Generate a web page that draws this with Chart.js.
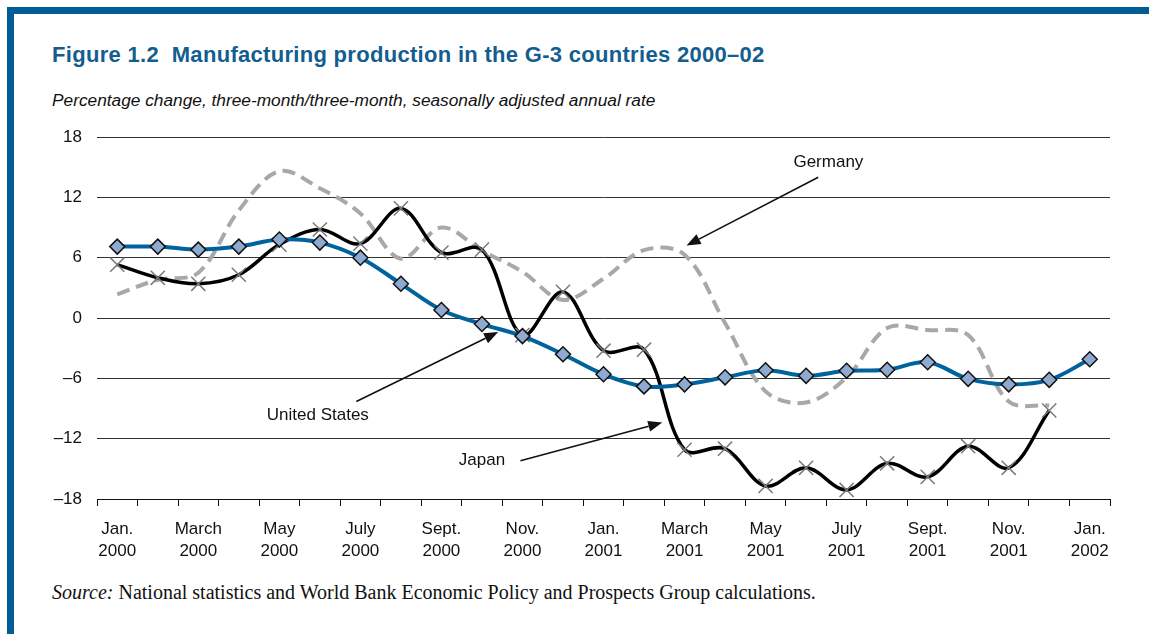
<!DOCTYPE html>
<html>
<head>
<meta charset="utf-8">
<script src="https://cdn.jsdelivr.net/npm/chart.js@4.4.0/dist/chart.umd.min.js"></script>
<style>
  body { margin: 0; background: #fff; width: 1149px; height: 634px; overflow: hidden; position: relative;
         font-family: "Liberation Sans", Arial, sans-serif; }
  .barTop { position: absolute; left: 7px; top: 7px; right: 0; height: 7px; background: #005d96; }
  .barLeft { position: absolute; left: 7px; top: 7px; width: 7px; bottom: 0; background: #005d96; }
  #title { position: absolute; left: 52px; top: 42px; font-size: 22px; line-height: 26px; letter-spacing: 0.3px; font-weight: bold; color: #135d8f; white-space: nowrap; }
  #subtitle { position: absolute; left: 52px; top: 90px; font-size: 17.3px; line-height: 20px; font-style: italic; color: #111; white-space: nowrap; }
  #source { position: absolute; left: 52px; top: 581px; font-family: "Liberation Serif", "Times New Roman", serif; font-size: 20px; line-height: 22px; color: #111; white-space: nowrap; }
  #chartBox { position: absolute; left: 0; top: 0; width: 1149px; height: 634px; }
</style>
</head>
<body>
<div class="barTop"></div>
<div class="barLeft"></div>
<div id="title">Figure 1.2&nbsp; Manufacturing production in the G-3 countries 2000–02</div>
<div id="subtitle">Percentage change, three-month/three-month, seasonally adjusted annual rate</div>
<div id="source"><i>Source:</i> National statistics and World Bank Economic Policy and Prospects Group calculations.</div>
<div id="chartBox"><canvas id="g3Chart"></canvas></div>

<script>
// meses (ene 2000 - ene 2002)
const months = ['Jan.', 'Feb.', 'March', 'April', 'May', 'June', 'July', 'Aug.', 'Sept.', 'Oct.', 'Nov.', 'Dec.',
                'Jan.', 'Feb.', 'March', 'April', 'May', 'June', 'July', 'Aug.', 'Sept.', 'Oct.', 'Nov.', 'Dec.',
                'Jan.'];
const years = ['2000', '2000', '2000', '2000', '2000', '2000', '2000', '2000', '2000', '2000', '2000', '2000',
               '2001', '2001', '2001', '2001', '2001', '2001', '2001', '2001', '2001', '2001', '2001', '2001',
               '2002'];

// series
const unitedStates = [7.1, 7.1, 6.8, 7.1, 7.8, 7.5, 6.0, 3.4, 0.8, -0.6, -1.8, -3.6,
                      -5.6, -6.8, -6.6, -5.9, -5.2, -5.75, -5.25, -5.15, -4.4, -6.05, -6.6, -6.15,
                      -4.1];
const japan = [5.3, 4.0, 3.4, 4.3, 7.3, 8.8, 7.4, 10.9, 6.5, 6.8, -1.7, 2.6,
               -3.25, -3.15, -13.1, -13.0, -16.7, -14.9, -17.1, -14.45, -15.8, -12.75, -14.9, -9.2,
               null];
const germany = [2.35, 3.8, 4.5, 10.7, 14.6, 12.9, 10.4, 5.9, 9.0, 6.7, 4.6, 1.8,
                 3.9, 6.75, 6.3, -0.5, -7.3, -8.4, -5.9, -1.0, -1.2, -1.7, -8.3, -8.7,
                 null];

// eje y
const yTicks = [-18, -12, -6, 0, 6, 12, 18];

// etiquetas con flecha (en unidades del grafico: indice de mes, valor)
const notes = [
    { text: 'Germany', at: [17.55, 15.5], from: [17.3, 14.0], to: [14.05, 7.2] },
    { text: 'United States', at: [4.95, -9.7], from: [5.9, -8.3], to: [9.4, -1.4] },
    { text: 'Japan', at: [9.0, -14.2], from: [9.95, -14.2], to: [13.45, -10.4] }
];

const arrowPlugin = {
    id: 'arrows',
    afterDatasetsDraw(chart) {
        const ctx = chart.ctx;
        const xs = chart.scales.x, ys = chart.scales.y;
        ctx.save();
        ctx.font = '17px "Liberation Sans", Arial, sans-serif';
        ctx.fillStyle = '#111';
        ctx.strokeStyle = '#111';
        ctx.textAlign = 'center';
        ctx.textBaseline = 'middle';
        notes.forEach(n => {
            ctx.fillText(n.text, xs.getPixelForValue(n.at[0]), ys.getPixelForValue(n.at[1]));
            const x1 = xs.getPixelForValue(n.from[0]), y1 = ys.getPixelForValue(n.from[1]);
            const x2 = xs.getPixelForValue(n.to[0]), y2 = ys.getPixelForValue(n.to[1]);
            const ang = Math.atan2(y2 - y1, x2 - x1);
            const head = 14, half = 5.5;
            const bx = x2 - head * Math.cos(ang), by = y2 - head * Math.sin(ang);
            ctx.lineWidth = 1.6;
            ctx.beginPath();
            ctx.moveTo(x1, y1);
            ctx.lineTo(bx, by);
            ctx.stroke();
            ctx.beginPath();
            ctx.moveTo(x2, y2);
            ctx.lineTo(bx + half * Math.sin(ang), by - half * Math.cos(ang));
            ctx.lineTo(bx - half * Math.sin(ang), by + half * Math.cos(ang));
            ctx.closePath();
            ctx.fill();
        });
        ctx.restore();
    }
};

const font = { family: '"Liberation Sans", Arial, sans-serif', size: 17 };

const config = {
    type: 'line',
    data: {
        labels: months.map((m, i) => m + ' ' + years[i]),
        datasets: [
            {
                label: 'United States',
                data: unitedStates,
                borderColor: '#00639e',
                borderWidth: 4,
                tension: 0.35,
                pointStyle: 'rectRot',
                pointRadius: 7.5,
                pointBackgroundColor: '#8eaad0',
                pointBorderColor: '#111',
                pointBorderWidth: 1.5
            },
            {
                label: 'Japan',
                data: japan,
                borderColor: '#000',
                borderWidth: 3.5,
                tension: 0.35,
                pointStyle: 'crossRot',
                pointRadius: 10,
                pointBorderColor: '#7a7a7a',
                pointBorderWidth: 1.5
            },
            {
                label: 'Germany',
                data: germany,
                borderColor: '#a8a8a8',
                borderWidth: 4,
                borderDash: [13, 7],
                tension: 0.35,
                pointRadius: 0
            }
        ]
    },
    options: {
        responsive: true,
        maintainAspectRatio: false,
        animation: false,
        layout: { padding: { left: 0, top: 137, right: 39, bottom: 63 } },
        scales: {
            x: {
                offset: true,
                grid: { offset: true, drawOnChartArea: false, drawTicks: true, tickLength: 7, color: '#111', lineWidth: 1 },
                border: { display: true, color: '#111', width: 1 },
                ticks: {
                    autoSkip: false,
                    maxRotation: 0,
                    padding: 13,
                    color: '#111',
                    font: { ...font, lineHeight: 1.25 },
                    callback: (v, i) => i % 2 === 0 ? [months[i], years[i]] : ''
                },
                afterFit: s => { s.height = 72; }
            },
            y: {
                min: -18,
                max: 18,
                afterBuildTicks: s => { s.ticks = yTicks.map(v => ({ value: v })); },
                grid: { drawTicks: false, color: '#333', lineWidth: 1 },
                border: { display: false },
                ticks: {
                    padding: 15,
                    color: '#111',
                    font: font,
                    callback: v => String(v).replace('-', '–')
                },
                afterFit: s => { s.width = 97; }
            }
        },
        plugins: {
            legend: { display: false },
            tooltip: { enabled: false }
        }
    },
    plugins: [arrowPlugin]
};

const ctx = document.getElementById('g3Chart').getContext('2d');
const g3Chart = new Chart(ctx, config);
</script>
</body>
</html>
